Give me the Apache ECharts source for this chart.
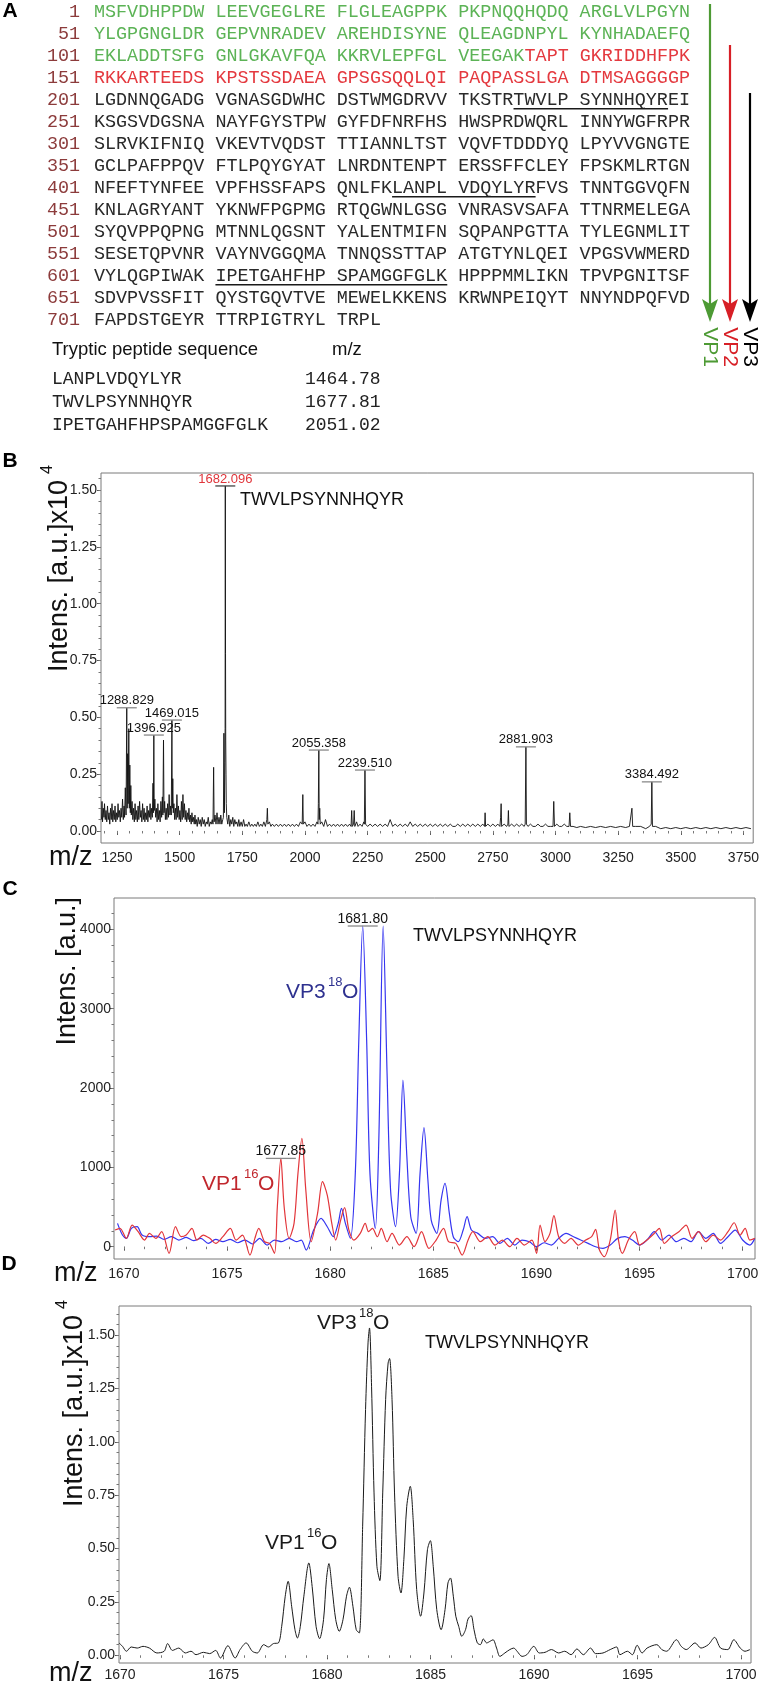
<!DOCTYPE html>
<html><head><meta charset="utf-8">
<script src="https://cdn.jsdelivr.net/npm/echarts@6/dist/echarts.min.js"></script>
<style>html,body{margin:0;padding:0;background:#fff}#c{width:762px;height:1683px}</style>
</head><body><div id="c"></div>
<script>
// ---------------- Panel A data ----------------
const seqStarts = [1,51,101,151,201,251,301,351,401,451,501,551,601,651,701];
const seqRows = [
"MSFVDHPPDW LEEVGEGLRE FLGLEAGPPK PKPNQQHQDQ ARGLVLPGYN",
"YLGPGNGLDR GEPVNRADEV AREHDISYNE QLEAGDNPYL KYNHADAEFQ",
"EKLADDTSFG GNLGKAVFQA KKRVLEPFGL VEEGAKTAPT GKRIDDHFPK",
"RKKARTEEDS KPSTSSDAEA GPSGSQQLQI PAQPASSLGA DTMSAGGGGP",
"LGDNNQGADG VGNASGDWHC DSTWMGDRVV TKSTRTWVLP SYNNHQYREI",
"KSGSVDGSNA NAYFGYSTPW GYFDFNRFHS HWSPRDWQRL INNYWGFRPR",
"SLRVKIFNIQ VKEVTVQDST TTIANNLTST VQVFTDDDYQ LPYVVGNGTE",
"GCLPAFPPQV FTLPQYGYAT LNRDNTENPT ERSSFFCLEY FPSKMLRTGN",
"NFEFTYNFEE VPFHSSFAPS QNLFKLANPL VDQYLYRFVS TNNTGGVQFN",
"KNLAGRYANT YKNWFPGPMG RTQGWNLGSG VNRASVSAFA TTNRMELEGA",
"SYQVPPQPNG MTNNLQGSNT YALENTMIFN SQPANPGTTA TYLEGNMLIT",
"SESETQPVNR VAYNVGGQMA TNNQSSTTAP ATGTYNLQEI VPGSVWMERD",
"VYLQGPIWAK IPETGAHFHP SPAMGGFGLK HPPPMMLIKN TPVPGNITSF",
"SDVPVSSFIT QYSTGQVTVE MEWELKKENS KRWNPEIQYT NNYNDPQFVD",
"FAPDSTGEYR TTRPIGTRYL TRPL"
];
const vp1LastResidue = 136;   // green up to here
const vp2LastResidue = 200;   // red up to here, black after
const peptides = ["LANPLVDQYLYR","TWVLPSYNNHQYR","IPETGAHFHPSPAMGGFGLK"];
const peptideMz = ["1464.78","1677.81","2051.02"];
const vpNames = ["VP1","VP2","VP3"];

// ---------------- Panel B data ----------------
const bXTicks = [1250,1500,1750,2000,2250,2500,2750,3000,3250,3500,3750];
const bYTicks = [0,0.25,0.5,0.75,1.0,1.25,1.5];
const specB = [
[1188,0.05],[1190,0.13],[1192,0.04],[1195,0.10],[1198,0.06],[1200,0.12],[1203,0.05],[1206,0.09],[1209,0.04],[1212,0.11],
[1215,0.05],[1218,0.08],[1221,0.03],[1224,0.10],[1227,0.05],[1230,0.12],[1233,0.04],[1236,0.09],[1239,0.05],[1242,0.11],
[1245,0.04],[1248,0.08],[1251,0.05],[1254,0.12],[1257,0.06],[1260,0.09],[1263,0.04],[1266,0.10],[1269,0.06],[1272,0.14],
[1275,0.05],[1278,0.11],[1280,0.06],[1283,0.19],[1286,0.07],[1288.8,0.542],[1290.5,0.10],[1292.5,0.34],[1294.5,0.12],[1297,0.45],
[1299,0.10],[1301,0.29],[1303,0.08],[1305,0.20],[1307,0.07],[1310,0.13],[1313,0.05],[1316,0.10],[1319,0.04],[1322,0.12],
[1325,0.05],[1328,0.09],[1331,0.04],[1334,0.11],[1337,0.05],[1340,0.13],[1343,0.06],[1346,0.09],[1349,0.04],[1352,0.12],
[1355,0.05],[1358,0.10],[1361,0.04],[1364,0.08],[1367,0.05],[1370,0.11],[1373,0.04],[1376,0.09],[1379,0.06],[1382,0.12],
[1385,0.05],[1388,0.10],[1391,0.06],[1393.5,0.21],[1395,0.08],[1396.9,0.422],[1398.5,0.09],[1401,0.14],[1404,0.06],[1407,0.10],
[1410,0.04],[1413,0.12],[1416,0.05],[1419,0.09],[1422,0.04],[1425,0.13],[1428,0.06],[1431,0.15],[1433,0.07],[1435.5,0.40],
[1437.5,0.08],[1440,0.13],[1443,0.05],[1446,0.10],[1449,0.05],[1452,0.12],[1455,0.06],[1458,0.16],[1461,0.07],[1464,0.11],
[1466.5,0.07],[1469,0.488],[1470.5,0.10],[1472.5,0.23],[1474.5,0.08],[1477,0.12],[1480,0.05],[1483,0.10],[1486,0.05],[1489,0.16],
[1492,0.06],[1495,0.11],[1498,0.05],[1501,0.09],[1504,0.04],[1507,0.13],[1510,0.05],[1513,0.16],[1516,0.06],[1519,0.12],
[1522,0.05],[1525,0.09],[1528,0.04],[1531,0.08],[1534,0.05],[1537,0.10],[1540,0.04],[1543,0.07],[1546,0.03],[1549,0.08],
[1552,0.04],[1555,0.06],[1558,0.03],[1561,0.07],[1564,0.03],[1567,0.05],[1570,0.02],[1574,0.06],[1578,0.03],[1582,0.05],
[1586,0.02],[1590,0.06],[1594,0.03],[1598,0.05],[1602,0.02],[1606,0.04],[1610,0.03],[1614,0.06],[1618,0.02],[1622,0.04],
[1626,0.03],[1630,0.05],[1633,0.03],[1635.5,0.28],[1637.5,0.04],[1641,0.07],[1645,0.03],[1649,0.08],[1653,0.03],[1657,0.06],
[1661,0.03],[1664,0.07],[1668,0.03],[1672,0.05],[1674.5,0.06],[1676.5,0.43],[1678.5,0.08],[1680.5,0.30],[1681.3,0.45],[1682.1,1.518],
[1683,0.78],[1683.8,0.40],[1685,0.25],[1686,0.12],[1688,0.06],[1692,0.03],[1696,0.07],[1700,0.02],[1704,0.05],[1708,0.03],
[1712,0.06],[1716,0.02],[1720,0.05],[1724,0.03],[1728,0.04],[1732,0.02],[1736,0.05],[1740,0.02],[1745,0.04],[1750,0.02],
[1755,0.05],[1760,0.02],[1765,0.03],[1770,0.02],[1776,0.04],[1782,0.02],[1788,0.03],[1794,0.02],[1800,0.03],[1806,0.02],
[1812,0.04],[1818,0.02],[1824,0.03],[1830,0.02],[1836,0.04],[1842,0.02],[1848,0.05],[1850,0.10],[1852,0.03],[1858,0.04],
[1864,0.02],[1870,0.03],[1878,0.02],[1886,0.03],[1894,0.02],[1902,0.03],[1910,0.02],[1918,0.03],[1926,0.02],[1934,0.03],
[1942,0.02],[1950,0.03],[1958,0.02],[1966,0.03],[1974,0.02],[1982,0.04],[1989,0.03],[1991.5,0.16],[1993.5,0.03],[2000,0.04],
[2008,0.02],[2016,0.03],[2024,0.02],[2032,0.03],[2040,0.02],[2048,0.04],[2052,0.03],[2053.5,0.12],[2055.4,0.356],[2057,0.05],
[2059,0.10],[2061,0.03],[2067,0.04],[2075,0.02],[2082,0.05],[2090,0.02],[2098,0.03],[2106,0.02],[2114,0.03],[2122,0.02],
[2130,0.03],[2138,0.02],[2146,0.03],[2154,0.02],[2162,0.03],[2170,0.02],[2178,0.03],[2184,0.02],[2186.5,0.09],[2189,0.02],
[2194,0.03],[2196.5,0.09],[2199,0.02],[2206,0.04],[2212,0.02],[2220,0.03],[2228,0.02],[2235,0.04],[2237,0.03],[2239.5,0.268],
[2242,0.03],[2250,0.02],[2260,0.03],[2270,0.02],[2280,0.03],[2290,0.02],[2300,0.03],[2310,0.02],[2320,0.03],[2330,0.02],
[2340,0.05],[2350,0.02],[2360,0.03],[2370,0.02],[2380,0.03],[2390,0.02],[2400,0.03],[2410,0.02],[2420,0.04],[2430,0.02],
[2440,0.03],[2450,0.02],[2460,0.03],[2470,0.02],[2480,0.03],[2490,0.02],[2500,0.03],[2510,0.02],[2520,0.03],[2530,0.02],
[2540,0.03],[2550,0.02],[2560,0.03],[2570,0.02],[2580,0.03],[2590,0.02],[2600,0.02],[2610,0.03],[2620,0.02],[2630,0.03],
[2640,0.02],[2650,0.03],[2660,0.02],[2670,0.03],[2680,0.02],[2690,0.03],[2700,0.02],[2710,0.03],[2717,0.02],[2719,0.08],
[2721,0.02],[2730,0.03],[2740,0.02],[2750,0.03],[2760,0.02],[2770,0.03],[2778,0.02],[2781,0.06],[2783,0.12],[2785,0.02],
[2795,0.03],[2805,0.02],[2810,0.03],[2812,0.09],[2814,0.02],[2825,0.03],[2835,0.02],[2845,0.03],[2855,0.02],[2865,0.03],
[2875,0.02],[2879,0.03],[2881.9,0.37],[2884,0.03],[2890,0.02],[2900,0.03],[2910,0.02],[2920,0.02],[2930,0.03],[2940,0.02],
[2950,0.02],[2960,0.03],[2970,0.02],[2980,0.02],[2990,0.02],[2993,0.13],[2996,0.02],[3005,0.03],[3015,0.02],[3025,0.02],
[3035,0.03],[3045,0.02],[3054,0.02],[3057,0.08],[3060,0.02],[3070,0.02],[3085,0.015],[3100,0.02],[3120,0.015],[3140,0.02],
[3160,0.015],[3180,0.02],[3200,0.015],[3220,0.02],[3240,0.015],[3260,0.02],[3280,0.015],[3295,0.02],[3302,0.02],[3305,0.10],
[3308,0.02],[3320,0.02],[3340,0.02],[3360,0.01],[3375,0.02],[3382,0.03],[3384.5,0.216],[3387,0.02],[3400,0.02],[3420,0.01],
[3440,0.015],[3460,0.01],[3480,0.015],[3500,0.01],[3520,0.015],[3540,0.01],[3560,0.015],[3580,0.01],[3600,0.015],[3620,0.01],
[3640,0.015],[3660,0.01],[3680,0.015],[3700,0.01],[3720,0.015],[3740,0.01],[3760,0.015],[3780,0.01]
];
const peakBLabels = ["1288.829","1396.925","1469.015","1682.096","2055.358","2239.510","2881.903","3384.492"];
const peakBMz = [1288.8,1396.9,1469.0,1682.1,2055.4,2239.5,2881.9,3384.5];
const peakBInt = [0.542,0.422,0.488,1.518,0.356,0.268,0.37,0.216];

// ---------------- Panel C data ----------------
const cXTicks = [1670,1675,1680,1685,1690,1695,1700];
const cYTicks = [0,1000,2000,3000,4000];
const specCBlue = [
[1669.69,294],[1669.93,147],[1670.12,105],[1670.36,231],[1670.64,252],[1670.88,147],[1671.24,126],[1671.59,134],[1671.95,92],[1672.31,126],
[1672.66,84],[1673.02,118],[1673.38,76],[1673.73,105],[1674.09,42],[1674.45,92],[1674.80,63],[1675.16,92],[1675.51,50],[1675.87,84],
[1676.23,34],[1676.58,105],[1676.94,21],[1677.30,84],[1677.65,63],[1678.01,105],[1678.37,63],[1678.60,84],[1678.84,-42],[1679.20,210],
[1679.56,357],[1679.86,252],[1680.15,126],[1680.39,294],[1680.55,483],[1680.74,294],[1680.98,105],[1681.22,924],[1681.39,2605],[1681.58,4042],
[1681.77,2605],[1681.93,924],[1682.19,231],[1682.36,1345],[1682.57,4042],[1682.76,2185],[1682.93,714],[1683.17,252],[1683.36,924],[1683.53,2100],
[1683.72,1134],[1683.91,378],[1684.17,168],[1684.36,924],[1684.55,1500],[1684.74,840],[1684.90,336],[1685.17,168],[1685.38,588],[1685.57,798],
[1685.78,420],[1685.97,126],[1686.21,63],[1686.45,210],[1686.64,378],[1686.85,210],[1687.16,168],[1687.52,105],[1687.88,126],[1688.23,42],
[1688.59,105],[1688.95,21],[1689.30,84],[1689.66,63],[1690.01,0],[1690.37,50],[1690.73,21],[1691.08,105],[1691.44,168],[1691.80,126],
[1692.15,84],[1692.51,42],[1692.87,0],[1693.22,-21],[1693.58,21],[1693.94,105],[1694.29,126],[1694.65,84],[1695.01,21],[1695.36,84],
[1695.72,189],[1696.08,84],[1696.43,147],[1696.79,63],[1697.15,105],[1697.50,63],[1697.86,189],[1698.22,105],[1698.57,168],[1698.93,42],
[1699.29,126],[1699.64,210],[1700.00,84],[1700.35,21],[1700.59,105]
];
const specCRed = [
[1669.57,210],[1669.81,231],[1670.12,105],[1670.40,273],[1670.69,189],[1671.00,84],[1671.24,168],[1671.55,105],[1671.83,189],[1672.19,-84],
[1672.50,252],[1672.78,126],[1673.02,147],[1673.30,231],[1673.54,84],[1673.85,147],[1674.16,105],[1674.45,42],[1674.80,126],[1675.16,231],
[1675.44,84],[1675.75,147],[1676.11,-105],[1676.35,105],[1676.54,231],[1676.82,63],[1677.06,42],[1677.30,-84],[1677.44,504],[1677.61,1113],
[1677.77,504],[1678.01,105],[1678.25,294],[1678.44,924],[1678.63,1365],[1678.82,714],[1679.08,63],[1679.39,420],[1679.63,819],[1679.86,651],
[1680.08,294],[1680.27,84],[1680.51,336],[1680.70,492],[1680.91,210],[1681.15,84],[1681.46,168],[1681.70,294],[1681.86,189],[1682.05,231],
[1682.29,126],[1682.48,231],[1682.76,63],[1683.00,168],[1683.36,21],[1683.72,126],[1684.07,0],[1684.43,189],[1684.79,-21],[1685.14,84],
[1685.50,231],[1685.74,63],[1686.09,42],[1686.40,-105],[1686.69,84],[1686.92,189],[1687.28,63],[1687.64,126],[1687.99,21],[1688.35,84],
[1688.71,0],[1689.06,105],[1689.42,21],[1689.78,84],[1690.01,-84],[1690.18,273],[1690.42,63],[1690.66,168],[1690.85,391],[1691.08,126],
[1691.37,42],[1691.68,105],[1692.03,21],[1692.39,84],[1692.68,126],[1692.87,218],[1693.06,-42],[1693.29,-126],[1693.58,84],[1693.82,462],
[1693.98,84],[1694.17,-84],[1694.46,84],[1694.77,189],[1695.01,21],[1695.36,84],[1695.72,168],[1695.96,231],[1696.20,42],[1696.55,126],
[1696.91,189],[1697.26,273],[1697.55,105],[1697.86,189],[1698.22,63],[1698.57,147],[1698.93,84],[1699.29,189],[1699.59,302],[1699.88,147],
[1700.12,231],[1700.35,84],[1700.59,105]
];
const peakCLabels = ["1677.85","1681.80"];
const peakCMz = [1677.61,1681.58];
const peakCInt = [1113,4042];

// ---------------- Panel D data ----------------
const dXTicks = [1670,1675,1680,1685,1690,1695,1700];
const dYTicks = [0,0.25,0.5,0.75,1.0,1.25,1.5];
const specD = [
[1669.95,0.058],[1670.12,0.042],[1670.31,0.019],[1670.54,0.039],[1670.83,0.034],[1671.11,0.042],[1671.42,0.034],[1671.78,0.011],[1672.13,0.019],[1672.30,0.055],
[1672.53,0.023],[1672.84,0.034],[1673.15,0.011],[1673.43,0.019],[1673.67,0.003],[1674.03,0.014],[1674.33,0.008],[1674.62,0.023],[1674.85,-0.0125],[1675.21,0.045],
[1675.56,-0.0125],[1675.80,0.027],[1676.09,0.058],[1676.39,0.019],[1676.63,0.011],[1676.94,0.05],[1677.17,0.039],[1677.41,0.055],[1677.65,0.058],[1677.81,0.136],
[1677.98,0.277],[1678.12,0.347],[1678.29,0.23],[1678.45,0.12],[1678.57,0.081],[1678.71,0.136],[1678.88,0.277],[1679.12,0.433],[1679.28,0.323],[1679.47,0.136],
[1679.64,0.078],[1679.83,0.167],[1679.97,0.355],[1680.09,0.43],[1680.25,0.308],[1680.42,0.167],[1680.59,0.1125],[1680.77,0.167],[1680.94,0.277],[1681.08,0.319],
[1681.25,0.23],[1681.41,0.12],[1681.56,0.105],[1681.72,0.605],[1681.86,1.152],[1681.98,1.464],[1682.05,1.534],[1682.15,1.261],[1682.27,0.761],[1682.41,0.417],
[1682.55,0.35],[1682.69,0.761],[1682.83,1.198],[1682.95,1.37],[1683.02,1.391],[1683.14,1.198],[1683.26,0.761],[1683.43,0.37],[1683.57,0.292],[1683.71,0.448],
[1683.85,0.698],[1684.02,0.792],[1684.16,0.636],[1684.33,0.308],[1684.52,0.183],[1684.68,0.292],[1684.85,0.495],[1684.99,0.5375],[1685.13,0.417],[1685.30,0.214],
[1685.51,0.12],[1685.70,0.214],[1685.84,0.339],[1685.96,0.3625],[1686.10,0.277],[1686.22,0.183],[1686.36,0.136],[1686.51,0.089],[1686.69,0.12],[1686.81,0.17],
[1686.96,0.186],[1687.10,0.12],[1687.26,0.058],[1687.41,0.05],[1687.55,0.077],[1687.71,0.058],[1687.88,0.066],[1688.02,0.073],[1688.19,0.034],[1688.35,-0.005],
[1688.59,0.011],[1688.83,0.027],[1689.02,0.034],[1689.18,0.019],[1689.42,-0.005],[1689.65,0.003],[1689.99,0.042],[1690.25,0.011],[1690.53,0.014],[1690.84,0.027],
[1691.19,0.011],[1691.48,0.019],[1691.79,0.003],[1692.07,0.03],[1692.38,0.003],[1692.73,0.034],[1692.97,0.008],[1693.33,0.011],[1693.68,0.027],[1693.99,0.039],
[1694.15,0.003],[1694.51,0.019],[1694.75,0.003],[1694.98,0.047],[1695.22,0.011],[1695.46,0.034],[1695.93,0.05],[1696.17,0.027],[1696.40,0.019],[1696.88,0.073],
[1697.11,0.042],[1697.35,0.027],[1697.78,0.058],[1698.06,0.034],[1698.42,0.05],[1698.72,0.084],[1699.01,0.034],[1699.36,0.027],[1699.65,0.073],[1699.96,0.034],
[1700.19,0.019],[1700.43,0.027]
];

// ---------------- styling / layout ----------------
const SANS = "'Liberation Sans', Arial, sans-serif";
const NARROW = "'Liberation Sans Narrow', 'Liberation Sans', Arial, sans-serif";
const MONO = "'Liberation Mono', 'Courier New', monospace";
const colGreen = '#5cb356', colRed = '#e4393f', colBlack = '#2a2a2a', colNum = '#8c3b3b';

function range(a, b, step) { const out = []; for (let v = a; v <= b + step * 1e-6; v += step) out.push(+v.toFixed(6)); return out; }

function axisPair(dim, gridIndex, min, max, major, minor, fmt, margin, fs) {
  const main = {
    type: 'value', gridIndex, min, max, position: dim === 'x' ? 'bottom' : 'left',
    axisLine: { show: false }, splitLine: { show: false },
    axisTick: { show: true, inside: false, length: 4, customValues: major, lineStyle: { color: '#555', width: 1 } },
    axisLabel: { customValues: major, formatter: fmt, margin, fontSize: fs, fontFamily: NARROW, color: '#222' }
  };
  const mnr = {
    type: 'value', gridIndex, min, max, position: dim === 'x' ? 'bottom' : 'left',
    axisLine: { show: false }, splitLine: { show: false }, axisLabel: { show: false },
    axisTick: { show: true, inside: false, length: 2.5, customValues: minor, lineStyle: { color: '#777', width: 1 } }
  };
  return [main, mnr];
}

const grids = [
  { left: 101, top: 473, width: 657, height: 370, show: true, borderColor: '#7a7a7a', borderWidth: 1, containLabel: false },
  { left: 114, top: 898, width: 641, height: 361, show: true, borderColor: '#7a7a7a', borderWidth: 1, containLabel: false },
  { left: 119, top: 1306, width: 632, height: 357, show: true, borderColor: '#7a7a7a', borderWidth: 1, containLabel: false }
];

const xAxes = [
  ...axisPair('x', 0, 1186, 3789, bXTicks, range(1200, 3750, 50), v => String(v), 8, 14),
  ...axisPair('x', 1, 1669.52, 1700.6, cXTicks, range(1670, 1700, 1), v => String(v), 8, 14),
  ...axisPair('x', 2, 1669.95, 1700.48, dXTicks, range(1670, 1700, 1), v => String(v), 5, 14)
];
const yAxes = [
  ...axisPair('y', 0, -0.053, 1.575, bYTicks, range(0, 1.55, 0.05), v => v.toFixed(2), 4, 14),
  ...axisPair('y', 1, -155, 4395, cYTicks, range(0, 4200, 200), v => String(v), 3, 14),
  ...axisPair('y', 2, -0.036, 1.637, dYTicks, range(0, 1.6, 0.05), v => v.toFixed(2), 4, 14)
];

function peakAnno(xi, yi, mz, it, labels, colors, halfW, fs) {
  return {
    type: 'custom', xAxisIndex: xi, yAxisIndex: yi, clip: false, silent: true, z: 10,
    data: mz.map((m, i) => [m, it[i]]),
    renderItem: (params, api) => {
      const p = api.coord([api.value(0), api.value(1)]);
      const i = params.dataIndex;
      return { type: 'group', children: [
        { type: 'line', shape: { x1: p[0] - halfW, y1: p[1], x2: p[0] + halfW, y2: p[1] }, style: { stroke: i === colors.darkIndex ? '#444' : '#8a8a8a', lineWidth: 1.3 } },
        { type: 'text', x: p[0], y: p[1] - 7, style: { text: labels[i], align: 'center', verticalAlign: 'middle', fill: colors.fill[i], fontSize: fs, fontFamily: NARROW } }
      ]};
    }
  };
}

// ---------------- graphic (panel A + titles) ----------------
const g = [];
const T = (x, y, text, o) => g.push(Object.assign({ type: 'text', x, y, silent: true, style: Object.assign({ text, align: 'left', verticalAlign: 'middle', fill: '#111', fontSize: 18, fontFamily: SANS }, o || {}) }));

// panel letters
[['A', 10, 11], ['B', 10, 461], ['C', 10, 889], ['D', 9, 1264]].forEach(([t, x, y]) => T(x, y, t, { align: 'center', fontSize: 21, fontWeight: 'bold', fill: '#000' }));

// sequence
const seqFS = 18.4, charW = seqFS * 0.6, seqX = 94, rowY0 = 12.3, rowDY = 22;
seqRows.forEach((row, r) => {
  const y = rowY0 + r * rowDY;
  T(80, y, String(seqStarts[r]), { align: 'right', fontFamily: MONO, fontSize: seqFS, fill: colNum });
  let res = seqStarts[r], seg = '', segStart = 0, segCol = null;
  const flush = () => { if (seg) T(seqX + segStart * charW, y, seg, { fontFamily: MONO, fontSize: seqFS, fill: segCol }); };
  for (let c = 0; c < row.length; c++) {
    const ch = row[c];
    let col = segCol;
    if (ch !== ' ') { col = res <= vp1LastResidue ? colGreen : (res <= vp2LastResidue ? colRed : colBlack); res++; }
    if (col !== segCol) { flush(); seg = ''; segStart = c; segCol = col; }
    seg += ch;
  }
  flush();
});
// underline tryptic peptides
const fullSeq = seqRows.join('').replace(/ /g, '');
peptides.forEach(pep => {
  const p = fullSeq.indexOf(pep); if (p < 0) return;
  const q = p + pep.length - 1;
  const r = Math.floor(p / 50), o1 = p % 50, o2 = q % 50;
  const c1 = o1 + Math.floor(o1 / 10), c2 = o2 + Math.floor(o2 / 10) + 1;
  const y = rowY0 + r * rowDY + 8.5;
  g.push({ type: 'line', silent: true, shape: { x1: seqX + c1 * charW, y1: y, x2: seqX + c2 * charW, y2: y }, style: { stroke: '#1a1a1a', lineWidth: 1.6 } });
});
// arrows
const arrowCols = ['#4d9a34', '#d71f26', '#000000'];
const arrowX = [710, 730, 750], arrowTop = [4, 45, 93];
arrowX.forEach((x, i) => {
  g.push({ type: 'line', silent: true, shape: { x1: x, y1: arrowTop[i], x2: x, y2: 305 }, style: { stroke: arrowCols[i], lineWidth: 2.2 } });
  g.push({ type: 'polygon', silent: true, shape: { points: [[x - 8, 299], [x, 304], [x + 8, 299], [x, 322]] }, style: { fill: arrowCols[i] } });
  g.push({ type: 'text', silent: true, x, y: 347, rotation: -Math.PI / 2, style: { text: vpNames[i], align: 'center', verticalAlign: 'middle', fontSize: 21, fontFamily: SANS, fill: arrowCols[i] } });
});
// peptide table
T(52, 350, 'Tryptic peptide sequence', { fontSize: 18.5 });
T(332, 350, 'm/z', { fontSize: 18.5 });
peptides.forEach((p, i) => {
  const y = 379 + i * 23;
  T(52, y, p, { fontFamily: MONO, fontSize: 18, fill: '#222' });
  T(305, y, peptideMz[i], { fontFamily: MONO, fontSize: 18, fill: '#222' });
});

// y axis titles (rotated) with superscripts
function yTitle(x, yTop, text, sup) {
  const ch = [{ type: 'text', x: 0, y: 0, style: { text, align: 'right', verticalAlign: 'middle', fontSize: 27, fontFamily: SANS, fill: '#111' } }];
  if (sup) ch.push({ type: 'text', x: 6, y: -12, style: { text: sup, align: 'left', verticalAlign: 'middle', fontSize: 16, fontFamily: SANS, fill: '#111' } });
  g.push({ type: 'group', x, y: yTop, rotation: Math.PI / 2, silent: true, children: ch });
}
yTitle(60, 480, 'Intens. [a.u.]x10', '4');
yTitle(68, 897, 'Intens. [a.u.]', null);
yTitle(75, 1315, 'Intens. [a.u.]x10', '4');
// m/z titles
T(49, 858, 'm/z', { fontSize: 27 });
T(54, 1274, 'm/z', { fontSize: 27 });
T(49, 1674, 'm/z', { fontSize: 27 });
// peptide name labels
T(240, 500, 'TWVLPSYNNHQYR', { fontSize: 18 });
T(413, 936, 'TWVLPSYNNHQYR', { fontSize: 18 });
T(425, 1343, 'TWVLPSYNNHQYR', { fontSize: 18 });
// isotope labels
function isoLabel(x, y, name, iso, color) {
  T(x, y, name, { fontSize: 21, fill: color });
  const w = 42;
  T(x + w, y - 10, iso, { fontSize: 13, fill: color });
  T(x + w + 14, y, 'O', { fontSize: 21, fill: color });
}
isoLabel(286, 992, 'VP3', '18', '#2e318f');
isoLabel(202, 1184, 'VP1', '16', '#c1272d');
isoLabel(317, 1323, 'VP3', '18', '#1a1a1a');
isoLabel(265, 1543, 'VP1', '16', '#1a1a1a');

const option = {
  animation: false,
  backgroundColor: '#ffffff',
  grid: grids,
  xAxis: xAxes,
  yAxis: yAxes,
  series: [
    { type: 'line', xAxisIndex: 0, yAxisIndex: 0, data: specB, showSymbol: false, symbol: 'none', silent: true, lineStyle: { color: '#111', width: 0.9 }, z: 3 },
    peakAnno(0, 0, peakBMz, peakBInt, peakBLabels, { darkIndex: 3, fill: peakBLabels.map((_, i) => i === 3 ? '#e0353b' : '#111') }, 10, 13),
    { type: 'line', xAxisIndex: 2, yAxisIndex: 2, data: specCBlue, showSymbol: false, symbol: 'none', silent: true, smooth: 0.3, lineStyle: { color: '#3535f0', width: 1.2 }, z: 3 },
    { type: 'line', xAxisIndex: 2, yAxisIndex: 2, data: specCRed, showSymbol: false, symbol: 'none', silent: true, smooth: 0.3, lineStyle: { color: '#e2353a', width: 1.2 }, z: 4 },
    peakAnno(2, 2, peakCMz, peakCInt, peakCLabels, { darkIndex: -1, fill: ['#111', '#111'] }, 15, 14),
    { type: 'line', xAxisIndex: 4, yAxisIndex: 4, data: specD, showSymbol: false, symbol: 'none', silent: true, smooth: 0.3, lineStyle: { color: '#1a1a1a', width: 1 }, z: 3 }
  ],
  graphic: g
};
const chart = echarts.init(document.getElementById('c'), null, { renderer: 'canvas', width: 762, height: 1683 });
chart.setOption(option);
</script></body></html>
